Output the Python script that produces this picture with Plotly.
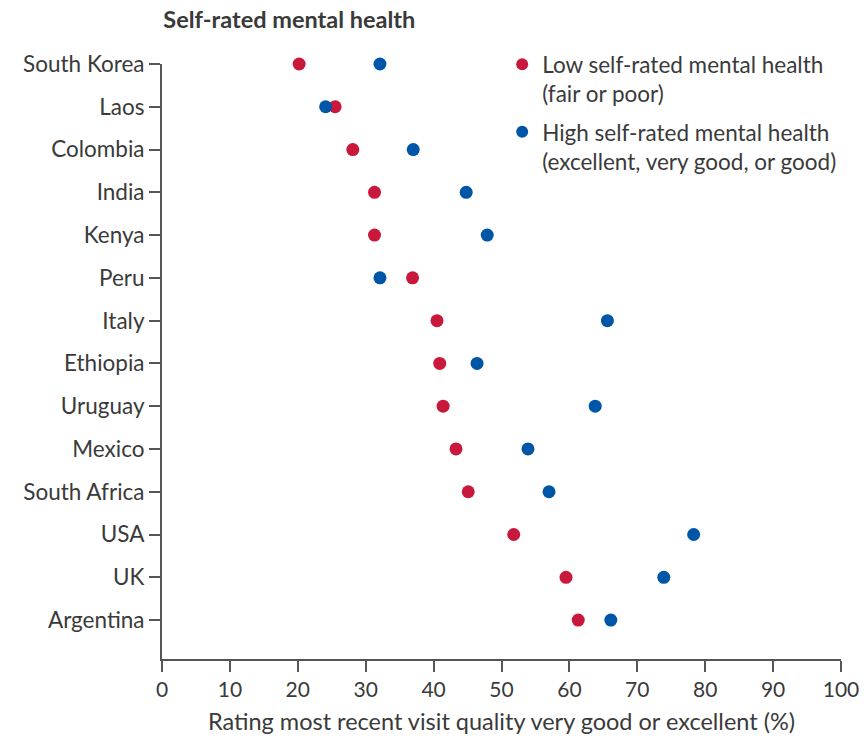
import plotly.graph_objects as go

countries = ["South Korea", "Laos", "Colombia", "India", "Kenya", "Peru", "Italy",
             "Ethiopia", "Uruguay", "Mexico", "South Africa", "USA", "UK", "Argentina"]
low_mh = [20.2, 25.5, 28.1, 31.3, 31.3, 36.9, 40.5, 40.9, 41.4, 43.3, 45.1, 51.8, 59.5, 61.3]
high_mh = [32.1, 24.1, 37.0, 44.8, 47.9, 32.1, 65.6, 46.4, 63.8, 53.9, 57.0, 78.3, 73.9, 66.1]
x_ticks = [0, 10, 20, 30, 40, 50, 60, 70, 80, 90, 100]

RED = "#c8193c"
BLUE = "#0056a6"
TXT = "#3a3a3a"
AX = "#555555"
FONT = "Lato"

fig = go.Figure()
fig.add_trace(go.Scatter(
    x=low_mh, y=countries, mode="markers", cliponaxis=False,
    name="Low self-rated mental health<br>(fair or poor)", legendgroup="a",
    marker=dict(color=RED, size=13)))
fig.add_trace(go.Scatter(
    x=high_mh, y=countries, mode="markers", cliponaxis=False,
    name="High self-rated mental health<br>(excellent, very good, or good)", legendgroup="b",
    marker=dict(color=BLUE, size=13)))

fig.update_layout(
    width=864, height=744,
    margin=dict(l=161.5, r=22.5, t=64, b=85, autoexpand=False),
    paper_bgcolor="white", plot_bgcolor="white",
    font=dict(family=FONT, size=22, color=TXT),
    title=dict(text="<b>Self-rated mental health</b>", x=0.002, xref="paper", xanchor="left",
               y=1 - 20 / 744, yref="container", yanchor="middle",
               font=dict(family=FONT, size=23.5, color=TXT)),
    showlegend=True,
    legend=dict(x=0.501, y=1.035, xanchor="left", yanchor="top", valign="top",
                bgcolor="rgba(0,0,0,0)", font=dict(family=FONT, size=22.5, color=TXT),
                tracegroupgap=6, itemsizing="constant"),
    xaxis=dict(range=[0, 100], tickvals=x_ticks, showgrid=False, zeroline=False,
               showline=True, linecolor=AX, linewidth=2, automargin=False,
               ticks="outside", ticklen=11, tickwidth=2, tickcolor=AX,
               tickfont=dict(family=FONT, size=21, color=TXT),
               title=dict(text="Rating most recent visit quality very good or excellent (%)",
                          font=dict(family=FONT, size=23.5, color=TXT), standoff=13)),
    yaxis=dict(type="category", categoryorder="array", categoryarray=countries[::-1],
               range=[-0.91, 13.0], showgrid=False, zeroline=False,
               showline=True, linecolor=AX, linewidth=2, automargin=False,
               ticks="outside", ticklen=11, tickwidth=2, tickcolor=AX,
               tickfont=dict(family=FONT, size=22.5, color=TXT)),
)

fig.write_html("out.html")
